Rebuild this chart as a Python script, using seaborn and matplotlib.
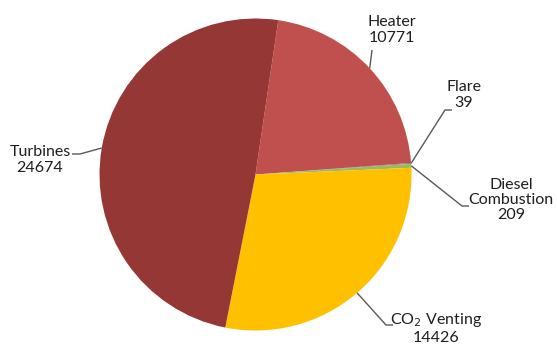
import numpy as np
import matplotlib
matplotlib.use("Agg")
import matplotlib.pyplot as plt
import seaborn as sns

# Emission sources and their totals
categories = ["Heater", "Flare", "Diesel\nCombustion", "CO$_2$ Venting", "Turbines"]
values = [10771, 39, 209, 14426, 24674]
colors = ["#C0504D", "#8064A2", "#9BBB59", "#FFC000", "#953735"]

sns.set_theme(style="white")
plt.rcParams["font.family"] = ["Lato", "DejaVu Sans"]

W, H = 557, 345
fig = plt.figure(figsize=(W / 100, H / 100), dpi=100)
ax = fig.add_axes([0, 0, 1, 1])

cx, cy, R = 255.5, 174.5, 156.0


def px(x, y):
    return (x - cx) / R, (cy - y) / R


start = 81.6
wedges, _ = ax.pie(values, colors=colors, startangle=start, counterclock=False,
                   radius=1.0, center=(0, 0), frame=True,
                   wedgeprops=dict(linewidth=0))
ax.set_xlim((0 - cx) / R, (W - cx) / R)
ax.set_ylim((cy - H) / R, cy / R)
ax.set_aspect("equal")
ax.axis("off")

# anchor angle for each slice's leader line
mids = [np.deg2rad((w.theta1 + w.theta2) / 2) for w in wedges]

# label layout: (elbow, end of shelf, text centre) in pixel coordinates
layout = [
    ((372, 50), (372, 50), (392, 30)),
    ((445, 110), (452, 110), (464, 95)),
    ((462, 206), (469, 206), (511, 200)),
    ((386, 325), (393, 325), (436, 328)),
    ((80, 154), (72, 154), (40, 160)),
]

line_col = "#595959"
text_col = "#1F1F1F"
for ang, (elbow, shelf, tpos), name, val in zip(mids, layout, categories, values):
    ax_, ay_ = np.cos(ang), np.sin(ang)
    ex, ey = px(*elbow)
    sx, sy = px(*shelf)
    ax.plot([ax_, ex, sx], [ay_, ey, sy], color=line_col, lw=1.0,
            solid_capstyle="butt", zorder=3)
    tx, ty = px(*tpos)
    ax.text(tx, ty, f"{name}\n{val}", ha="center", va="center",
            fontsize=11.5, color=text_col, linespacing=1.1, zorder=4)

fig.savefig("out.png", dpi=100)
